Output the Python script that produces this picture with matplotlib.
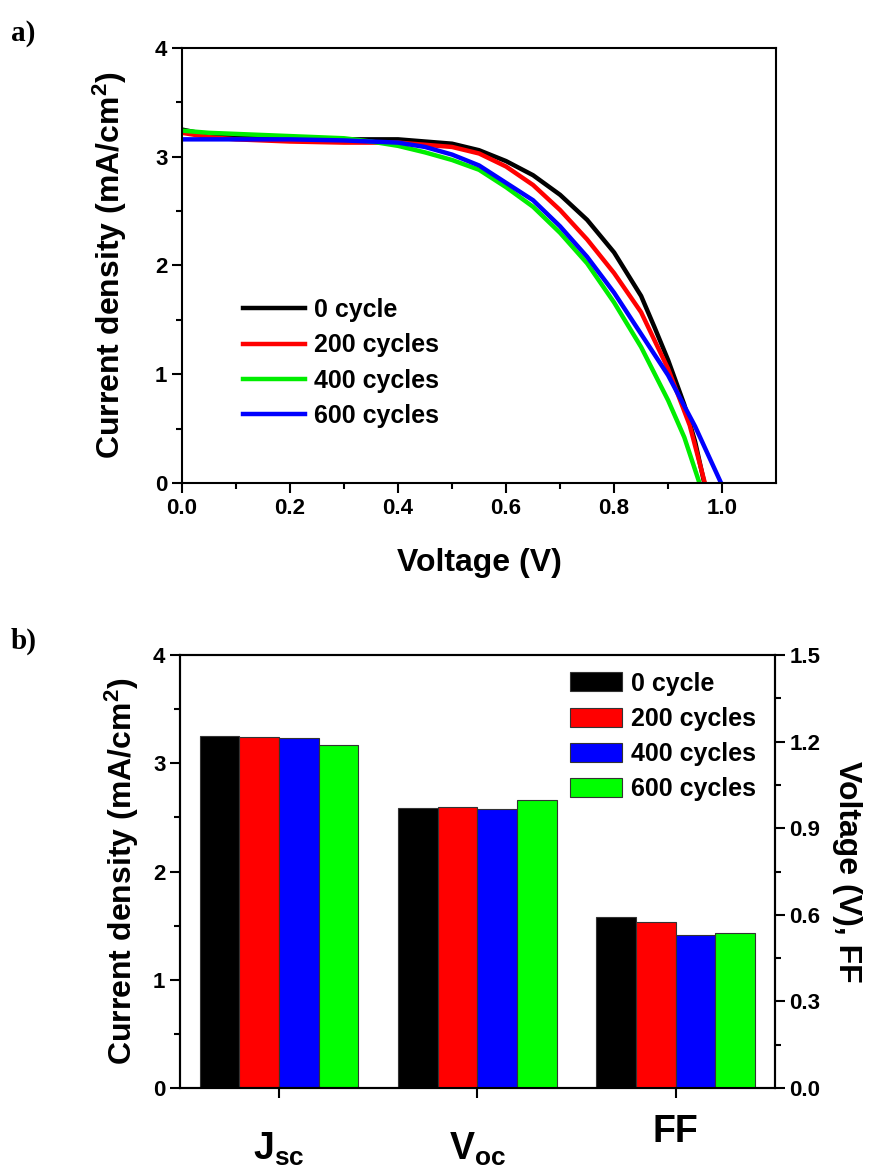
import matplotlib
matplotlib.use('Agg')
import matplotlib.pyplot as plt
from matplotlib.transforms import ScaledTranslation
import numpy as np

plt.rcParams['font.family'] = ['Liberation Sans', 'DejaVu Sans']
plt.rcParams['mathtext.fontset'] = 'custom'
plt.rcParams['mathtext.rm'] = 'Liberation Sans:bold'
plt.rcParams['mathtext.bf'] = 'Liberation Sans:bold'
plt.rcParams['mathtext.it'] = 'Liberation Sans:bold'

# J-V curves (panel a)
v_0 = [0, 0.05, 0.1, 0.2, 0.3, 0.4, 0.5, 0.55, 0.6, 0.65, 0.7, 0.75, 0.8, 0.85, 0.875, 0.9, 0.93, 0.95, 0.967]
j_0 = [3.25, 3.20, 3.18, 3.17, 3.16, 3.16, 3.12, 3.06, 2.96, 2.83, 2.65, 2.42, 2.12, 1.72, 1.43, 1.13, 0.72, 0.38, 0.0]
v_200 = [0, 0.05, 0.1, 0.2, 0.3, 0.4, 0.5, 0.55, 0.6, 0.65, 0.7, 0.75, 0.8, 0.85, 0.9, 0.94, 0.968]
j_200 = [3.22, 3.18, 3.16, 3.14, 3.13, 3.13, 3.09, 3.03, 2.91, 2.74, 2.51, 2.24, 1.93, 1.57, 1.05, 0.53, 0.0]
v_400 = [0, 0.05, 0.1, 0.2, 0.3, 0.35, 0.4, 0.45, 0.5, 0.55, 0.6, 0.65, 0.7, 0.75, 0.8, 0.85, 0.9, 0.93, 0.958]
j_400 = [3.24, 3.22, 3.21, 3.19, 3.17, 3.14, 3.10, 3.04, 2.97, 2.88, 2.72, 2.54, 2.30, 2.02, 1.66, 1.25, 0.76, 0.42, 0.0]
v_600 = [0, 0.1, 0.2, 0.3, 0.4, 0.45, 0.5, 0.55, 0.6, 0.65, 0.7, 0.75, 0.8, 0.85, 0.9, 0.95, 0.998]
j_600 = [3.16, 3.16, 3.16, 3.15, 3.13, 3.09, 3.02, 2.92, 2.76, 2.60, 2.36, 2.08, 1.75, 1.37, 0.99, 0.52, 0.0]

# photovoltaic parameters (panel b)
params = ['$\\mathbf{J_{sc}}$', '$\\mathbf{V_{oc}}$', 'FF']
cycle_labels = ['0 cycle', '200 cycles', '400 cycles', '600 cycles']
jsc = [3.25, 3.24, 3.23, 3.17]
voc = [0.971, 0.973, 0.967, 0.998]
ff = [0.594, 0.575, 0.531, 0.536]

line_colors = ['#000000', '#ff0000', '#00ee00', '#0000ff']
bar_colors = ['#000000', '#ff0000', '#0000ff', '#00ff00']

fig = plt.figure(figsize=(8.75, 11.68), dpi=100)

# ---- panel a ----
ax1 = fig.add_axes([0.208, 0.5865, 0.679, 0.3724])
curves = [(v_0, j_0), (v_200, j_200), (v_400, j_400), (v_600, j_600)]
for (v, j), c, lab in zip(curves, line_colors, cycle_labels):
    ax1.plot(v, j, color=c, lw=3.2, label=lab)
ax1.set_xlim(0, 1.1)
ax1.set_ylim(0, 4)
ax1.set_xticks(np.arange(0, 1.01, 0.2))
ax1.set_xticks(np.arange(0.1, 1.1, 0.2), minor=True)
ax1.set_yticks([0, 1, 2, 3, 4])
ax1.set_yticks([0.5, 1.5, 2.5, 3.5], minor=True)
ax1.set_xticklabels([f'{t:.1f}' for t in np.arange(0, 1.01, 0.2)])
ax1.set_xlabel('Voltage (V)', fontsize=23, fontweight='bold', labelpad=21)
ax1.set_ylabel('Current density (mA/cm$^{2}$)', fontsize=23, fontweight='bold', labelpad=19)
ax1.legend(loc='upper left', bbox_to_anchor=(0.085, 0.448), frameon=False,
           handlelength=2.5, handletextpad=0.35, borderaxespad=0,
           prop={'weight': 'bold', 'size': 18}, labelspacing=0.45)

# ---- panel b ----
ax2 = fig.add_axes([0.2057, 0.0685, 0.68, 0.3707])
ax3 = ax2.twinx()
x = np.arange(1, 4)
w = 0.2
offsets = [-1.5 * w, -0.5 * w, 0.5 * w, 1.5 * w]
for i in range(4):
    ax2.bar(x[0] + offsets[i], jsc[i], w, color=bar_colors[i], edgecolor='#333333', lw=0.8,
            label=cycle_labels[i])
    ax3.bar(x[1:] + offsets[i], [voc[i], ff[i]], w, color=bar_colors[i], edgecolor='#333333', lw=0.8)
ax2.set_xlim(0.5, 3.5)
ax2.set_ylim(0, 4)
ax3.set_ylim(0, 1.5)
ax2.set_yticks([0, 1, 2, 3, 4])
ax2.set_yticks([0.5, 1.5, 2.5, 3.5], minor=True)
ax3.set_yticks(np.arange(0, 1.51, 0.3))
ax3.set_yticks(np.arange(0.15, 1.5, 0.3), minor=True)
ax3.set_yticklabels([f'{t:.1f}' for t in np.arange(0, 1.51, 0.3)])
ax2.set_xticks(x)
ax2.set_xticklabels(params)
ax2.set_ylabel('Current density (mA/cm$^{2}$)', fontsize=23, fontweight='bold', labelpad=9)
ax3.set_ylabel('Voltage (V), FF', fontsize=23, fontweight='bold', rotation=-90, labelpad=30)
ax2.legend(loc='upper right', bbox_to_anchor=(0.985, 0.985), frameon=False, borderaxespad=0,
           handlelength=2.1, handleheight=0.8, handletextpad=0.35,
           prop={'weight': 'bold', 'size': 18}, labelspacing=0.45)

for ax in (ax1, ax2, ax3):
    ax.tick_params(which='major', direction='out', length=7, width=1.5, labelsize=16)
    ax.tick_params(which='minor', direction='out', length=4, width=1.5)
    for lab in ax.get_xticklabels() + ax.get_yticklabels():
        lab.set_fontweight('bold')
    for s in ax.spines.values():
        s.set_linewidth(1.5)
ax2.tick_params(axis='x', labelsize=27, pad=12)
ax1.tick_params(top=False, right=False)
# subscripted labels sit lower than FF in the original
for lab in ax2.get_xticklabels()[:2]:
    lab.set_transform(lab.get_transform() + ScaledTranslation(0, -0.16, fig.dpi_scale_trans))

fig.text(0.012, 0.965, 'a)', fontsize=21, fontweight='bold', family='Liberation Serif')
fig.text(0.012, 0.445, 'b)', fontsize=21, fontweight='bold', family='Liberation Serif')

fig.savefig('out.png', dpi=100)
